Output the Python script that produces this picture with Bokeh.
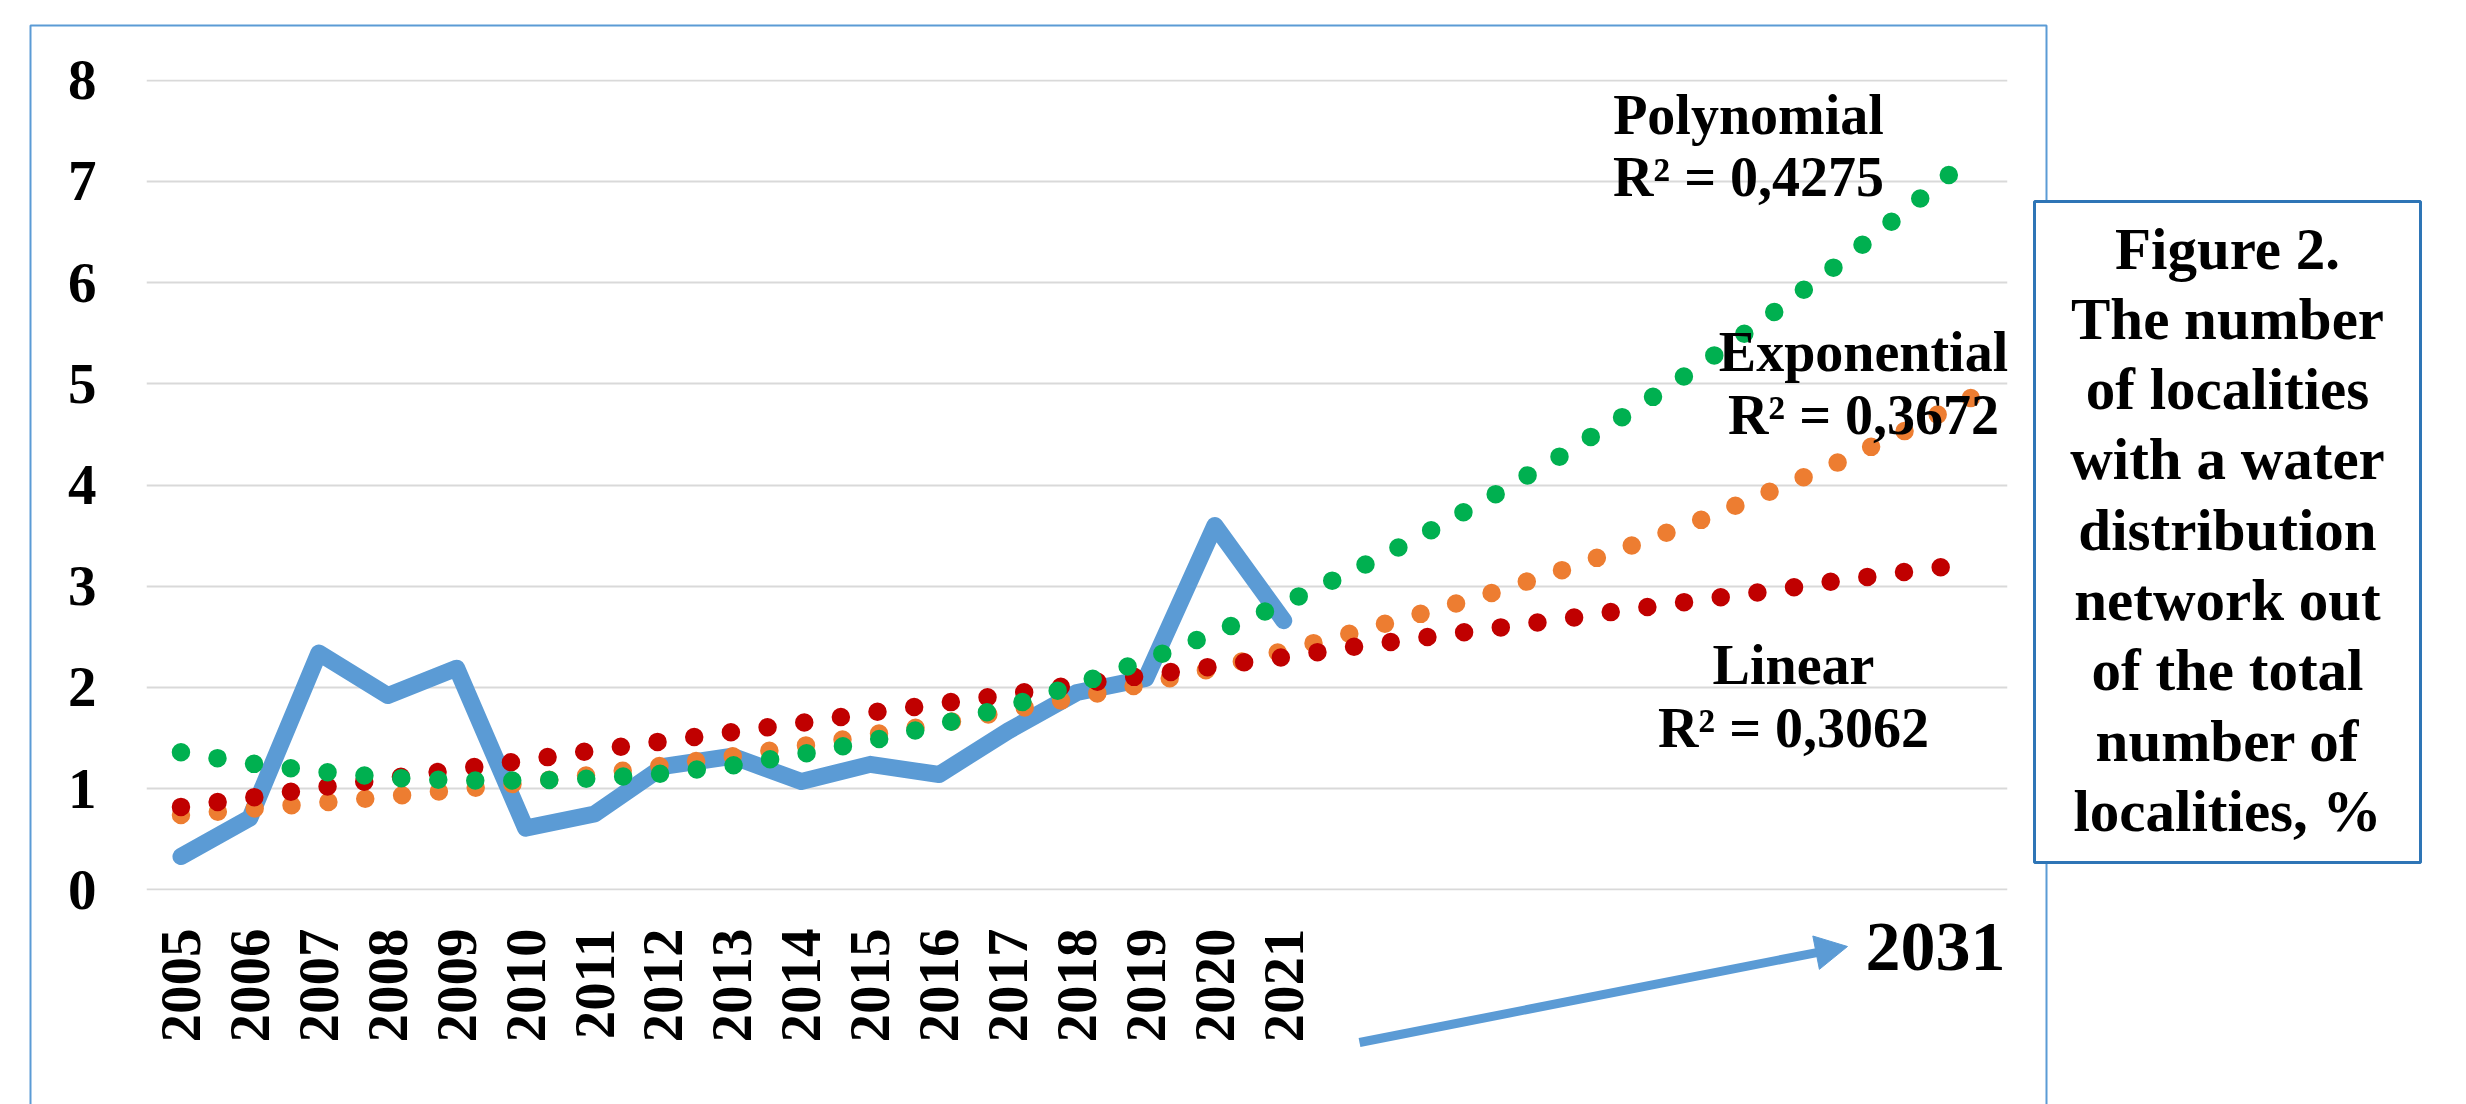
import math
from bokeh.plotting import figure
from bokeh.models import Range1d, FixedTicker, Label, GridBox
from bokeh.core.properties import value
from bokeh.embed import file_html
from bokeh.resources import INLINE

# ---------------- data ----------------
years = [2005, 2006, 2007, 2008, 2009, 2010, 2011, 2012, 2013,
         2014, 2015, 2016, 2017, 2018, 2019, 2020, 2021]
share = [0.33, 0.71, 2.34, 1.92, 2.19, 0.61, 0.75, 1.22, 1.32,
         1.07, 1.24, 1.14, 1.57, 1.95, 2.09, 3.60, 2.66]

trend_years = list(range(2005, 2032))
trend_linear = [0.82, 0.91, 1.01, 1.10, 1.19, 1.28, 1.38, 1.47, 1.56,
                1.65, 1.75, 1.84, 1.93, 2.03, 2.12, 2.21, 2.30, 2.40,
                2.49, 2.58, 2.67, 2.77, 2.86, 2.95, 3.05, 3.14, 3.23]
trend_exponential = [0.74, 0.80, 0.86, 0.92, 0.99, 1.06, 1.14, 1.23, 1.32,
                     1.42, 1.53, 1.64, 1.77, 1.90, 2.04, 2.19, 2.36, 2.54,
                     2.73, 2.93, 3.15, 3.39, 3.64, 3.92, 4.21, 4.53, 4.87]
trend_polynomial = [1.36, 1.25, 1.17, 1.11, 1.08, 1.08, 1.10, 1.15, 1.23,
                    1.34, 1.47, 1.63, 1.81, 2.03, 2.27, 2.54, 2.83, 3.15,
                    3.50, 3.88, 4.28, 4.71, 5.16, 5.65, 6.16, 6.70, 7.26]

y_ticks = [0, 1, 2, 3, 4, 5, 6, 7, 8]
x_tick_labels = years

trend_names = ["Polynomial", "Exponential", "Linear"]
trend_r2 = ["R\u00b2 = 0,4275", "R\u00b2 = 0,3672", "R\u00b2 = 0,3062"]
forecast_label = "2031"
caption_lines = ["Figure 2.", "The number", "of localities", "with a water",
                 "distribution", "network out", "of the total",
                 "number of", "localities, %"]

# ---------------- layout ----------------
W, H = 2466, 1104
FL, FR, FT, FB = 146, 2007, 79, 890
X0, X1 = 2004.5, 2031.5
Y0, Y1 = -0.006, 8.006

def dx(px):
    return X0 + (px - FL) * (X1 - X0) / (FR - FL)

def dy(py):
    return Y0 + (FB - py) * (Y1 - Y0) / (FB - FT)

SERIF = "Liberation Serif"
BLUE = "#5B9BD5"

p = figure(width=W, height=H, output_backend="svg", toolbar_location=None,
           x_range=Range1d(X0, X1), y_range=Range1d(Y0, Y1),
           min_border_left=FL, min_border_right=W - FR,
           min_border_top=FT, min_border_bottom=H - FB,
           background_fill_color="white", border_fill_color="white",
           outline_line_color=None)
p.frame_align = False

# data line
p.line(years, share, line_color=BLUE, line_width=17,
       line_join="round", line_cap="round")

# trendlines (round-dot)
for vals, col in [(trend_exponential, "#ED7D31"),
                  (trend_linear, "#C00000"),
                  (trend_polynomial, "#00B050")]:
    p.line(trend_years, vals, line_color=col, line_width=18.5,
           line_dash="0 37", line_cap="round", line_join="round")

# axes
for ax in (p.xaxis, p.yaxis):
    ax.axis_line_color = None
    ax.major_tick_line_color = None
    ax.minor_tick_line_color = None
    ax.major_tick_out = 0
    ax.major_tick_in = 0
    ax.major_label_text_font = SERIF
    ax.major_label_text_font_style = "bold"
    ax.major_label_text_font_size = "57px"
    ax.major_label_text_color = "black"

p.xaxis.ticker = FixedTicker(ticks=x_tick_labels)
p.xaxis.major_label_orientation = math.pi / 2
p.xaxis.major_label_standoff = 38
p.yaxis.ticker = FixedTicker(ticks=y_ticks)
p.yaxis.major_label_standoff = 50

p.xgrid.grid_line_color = None
p.ygrid.ticker = FixedTicker(ticks=y_ticks)
p.ygrid.grid_line_color = "#D9D9D9"
p.ygrid.grid_line_width = 2

# trendline labels (inside the plot frame); y = visual middle of the text line
def add_label(text, px, py, size="56px"):
    p.add_layout(Label(x=dx(px), y=dy(py), text=text, text_align="center",
                       text_baseline="middle", text_font=SERIF,
                       text_font_style="bold", text_font_size=size,
                       text_color="black"))

add_label(trend_names[0], 1748, 114)
add_label(trend_r2[0], 1748, 176)
add_label(trend_names[1], 1863, 351)
add_label(trend_r2[1], 1863, 414)
add_label(trend_names[2], 1793, 664)
add_label(trend_r2[2], 1793, 727)

# ---------------- overlay for decorations outside the plot frame ----------------
q = figure(width=W, height=H, output_backend="svg", toolbar_location=None,
           x_range=Range1d(dx(0), dx(W)), y_range=Range1d(dy(H), dy(0)),
           min_border=0, min_border_left=0, min_border_right=0,
           min_border_top=0, min_border_bottom=0,
           x_axis_type=None, y_axis_type=None,
           background_fill_color=None, border_fill_color=None,
           outline_line_color=None)
q.frame_align = False
q.grid.visible = False

# outer chart border
q.quad(left=[dx(30)], right=[dx(2046)], top=[dy(25)], bottom=[dy(1140)],
       fill_color=None, line_color=BLUE, line_width=2)

# forecast arrow
sx, sy = 1359.0, 1042.0
tx, ty = 1847.0, 946.0
head_len, head_w = 32.0, 34.0
L = math.hypot(tx - sx, ty - sy)
ux, uy = (tx - sx) / L, (ty - sy) / L
nx, ny = -uy, ux
bx, by = tx - head_len * ux, ty - head_len * uy
q.segment(x0=[dx(sx)], y0=[dy(sy)], x1=[dx(bx + 2 * ux)], y1=[dy(by + 2 * uy)],
          line_color=BLUE, line_width=9, line_cap="butt")
q.patch(x=[dx(tx), dx(bx + head_w / 2 * nx), dx(bx - head_w / 2 * nx)],
        y=[dy(ty), dy(by + head_w / 2 * ny), dy(by - head_w / 2 * ny)],
        fill_color=BLUE, line_color=BLUE, line_width=1)

q.text(x=[dx(1935)], y=[dy(946)], text=[forecast_label],
       text_font=value(SERIF), text_font_style="bold", text_font_size="70px",
       text_align="center", text_baseline="middle", text_color="black")

# caption box
q.quad(left=[dx(2034)], right=[dx(2420)], top=[dy(201)], bottom=[dy(862)],
       fill_color="white", fill_alpha=1.0, line_color="#2E75B6", line_width=3)
cap_x = [dx(2227)] * len(caption_lines)
cap_y = [dy(248 + i * 70.3) for i in range(len(caption_lines))]
q.text(x=cap_x, y=cap_y, text=caption_lines,
       text_font=value(SERIF), text_font_style="bold", text_font_size="59px",
       text_align="center", text_baseline="middle", text_color="black")

layout = GridBox(children=[(p, 0, 0), (q, 0, 0)])
open("out.html", "w").write(file_html(layout, INLINE))
